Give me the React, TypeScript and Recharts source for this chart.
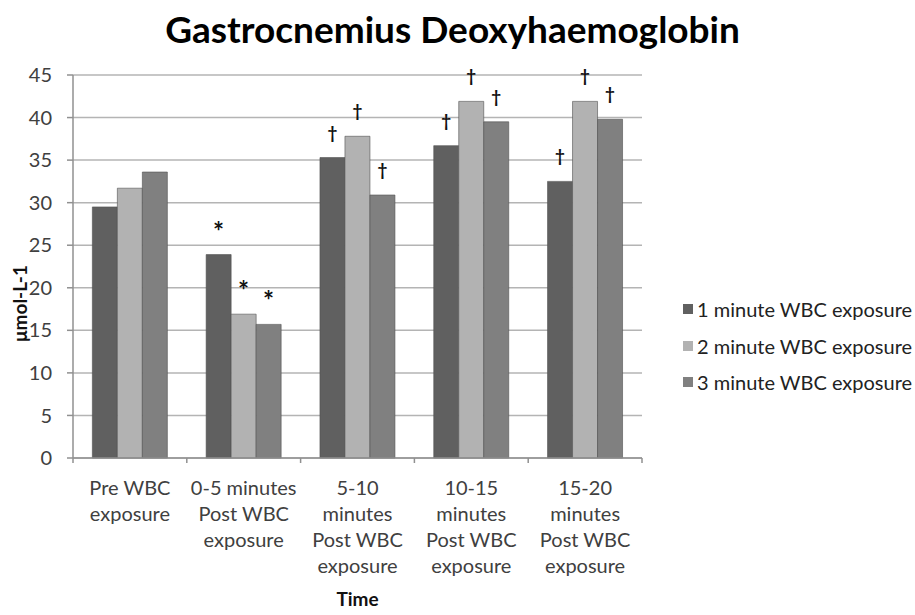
import React from "react";
import { BarChart, Bar, XAxis, YAxis, CartesianGrid, Label } from "recharts";

const FONT = "Lato, 'Open Sans', sans-serif";

const categories = [
  "Pre WBC\nexposure",
  "0-5 minutes\nPost WBC\nexposure",
  "5-10\nminutes\nPost WBC\nexposure",
  "10-15\nminutes\nPost WBC\nexposure",
  "15-20\nminutes\nPost WBC\nexposure",
];
const oneMinute = [29.5, 23.9, 35.3, 36.7, 32.5];
const twoMinute = [31.7, 16.9, 37.8, 41.9, 41.9];
const threeMinute = [33.6, 15.7, 30.9, 39.5, 39.8];
const oneMinuteMarks = ["", "*", "†", "†", "†"];
const twoMinuteMarks = ["", "*", "†", "†", "†"];
const threeMinuteMarks = ["", "*", "†", "†", "†"];
const yTicks = [0, 5, 10, 15, 20, 25, 30, 35, 40, 45];

const series = [
  { key: "one", name: "1 minute WBC exposure", color: "#606060", values: oneMinute, marks: oneMinuteMarks },
  { key: "two", name: "2 minute WBC exposure", color: "#b2b2b2", values: twoMinute, marks: twoMinuteMarks },
  { key: "three", name: "3 minute WBC exposure", color: "#808080", values: threeMinute, marks: threeMinuteMarks },
];

const data = categories.map((name, i) => {
  const row: Record<string, string | number> = { name };
  series.forEach((s) => (row[s.key] = s.values[i]));
  return row;
});

// Excel-style category ticks sit on the boundaries, not the centres
const CategoryTick = (props: any) => {
  const { x, y, payload, width, index, visibleTicksCount } = props;
  const band = width / visibleTicksCount;
  const lines = String(payload.value).split("\n");
  return (
    <g>
      <line x1={x - band / 2} x2={x - band / 2} y1={y} y2={y + 5} stroke="#909090" strokeWidth={1.5} />
      {index === visibleTicksCount - 1 && (
        <line x1={x + band / 2} x2={x + band / 2} y1={y} y2={y + 5} stroke="#909090" strokeWidth={1.5} />
      )}
      <text x={x} y={y} textAnchor="middle" fill="#404040" fontSize={20} fontFamily={FONT}>
        {lines.map((line, i) => (
          <tspan key={i} x={x} dy={i === 0 ? 37 : 26}>
            {line}
          </tspan>
        ))}
      </text>
    </g>
  );
};

const markLabel = (marks: string[]) => (props: any) => {
  const { x, y, width, index } = props;
  const mark = marks[index];
  if (!mark) return null;
  const star = mark === "*";
  return (
    <text
      x={x + width / 2}
      y={y - (star ? 14 : 19)}
      textAnchor="middle"
      fill="#111"
      fontWeight="bold"
      fontSize={star ? 26 : 17}
      fontFamily={FONT}
    >
      {mark}
    </text>
  );
};

const YTitle = (props: any) => {
  const { viewBox } = props;
  const cx = viewBox.x + 19;
  const cy = viewBox.y + viewBox.height / 2 + 37;
  return (
    <text
      transform={`translate(${cx}, ${cy}) rotate(-90)`}
      textAnchor="middle"
      dominantBaseline="central"
      fill="#111"
      fontWeight="bold"
      fontSize={19}
      fontFamily={FONT}
    >
      μmol-L-1
    </text>
  );
};

export default function App() {
  return (
    <div style={{ position: "absolute", left: 0, top: 0, width: 915, height: 615, background: "#fff", fontFamily: FONT }}>
      <div
        style={{
          position: "absolute",
          left: 0,
          top: 7,
          width: 905,
          textAlign: "center",
          fontSize: 37,
          fontWeight: "bold",
          color: "#000",
          lineHeight: "44px",
        }}
      >
        Gastrocnemius Deoxyhaemoglobin
      </div>
      <BarChart
        width={915}
        height={615}
        data={data}
        margin={{ top: 75, right: 273, bottom: 27, left: 0 }}
        barCategoryGap="17%"
        barGap={0}
      >
        <CartesianGrid vertical={false} stroke="#b4b4b4" strokeWidth={1.5} />
        <XAxis
          dataKey="name"
          height={130}
          interval={0}
          tick={<CategoryTick />}
          tickLine={false}
          tickSize={0}
          tickMargin={0}
          axisLine={{ stroke: "#909090", strokeWidth: 1.5 }}
        >
          <Label
            value="Time"
            position="insideBottom"
            offset={-18}
            fill="#111"
            fontWeight="bold"
            fontSize={19}
            fontFamily={FONT}
          />
        </XAxis>
        <YAxis
          width={73}
          domain={[0, 45]}
          ticks={yTicks}
          interval={0}
          tickSize={6}
          tickMargin={15}
          tick={{ fill: "#404040", fontSize: 20, fontFamily: FONT }}
          tickLine={{ stroke: "#909090", strokeWidth: 1.5 }}
          axisLine={{ stroke: "#909090", strokeWidth: 1.5 }}
          label={<YTitle />}
        />
        {series.map((s) => (
          <Bar
            key={s.key}
            dataKey={s.key}
            name={s.name}
            fill={s.color}
            stroke="#505050"
            strokeWidth={0.6}
            isAnimationActive={false}
            label={markLabel(s.marks)}
          />
        ))}
      </BarChart>
      <div style={{ position: "absolute", left: 683, top: 291 }}>
        {series.map((s) => (
          <div key={s.key} style={{ display: "flex", alignItems: "center", height: 36.5, fontSize: 20, color: "#222" }}>
            <span style={{ width: 10, height: 10, background: s.color, marginRight: 4, display: "inline-block" }} />
            {s.name}
          </div>
        ))}
      </div>
    </div>
  );
}
